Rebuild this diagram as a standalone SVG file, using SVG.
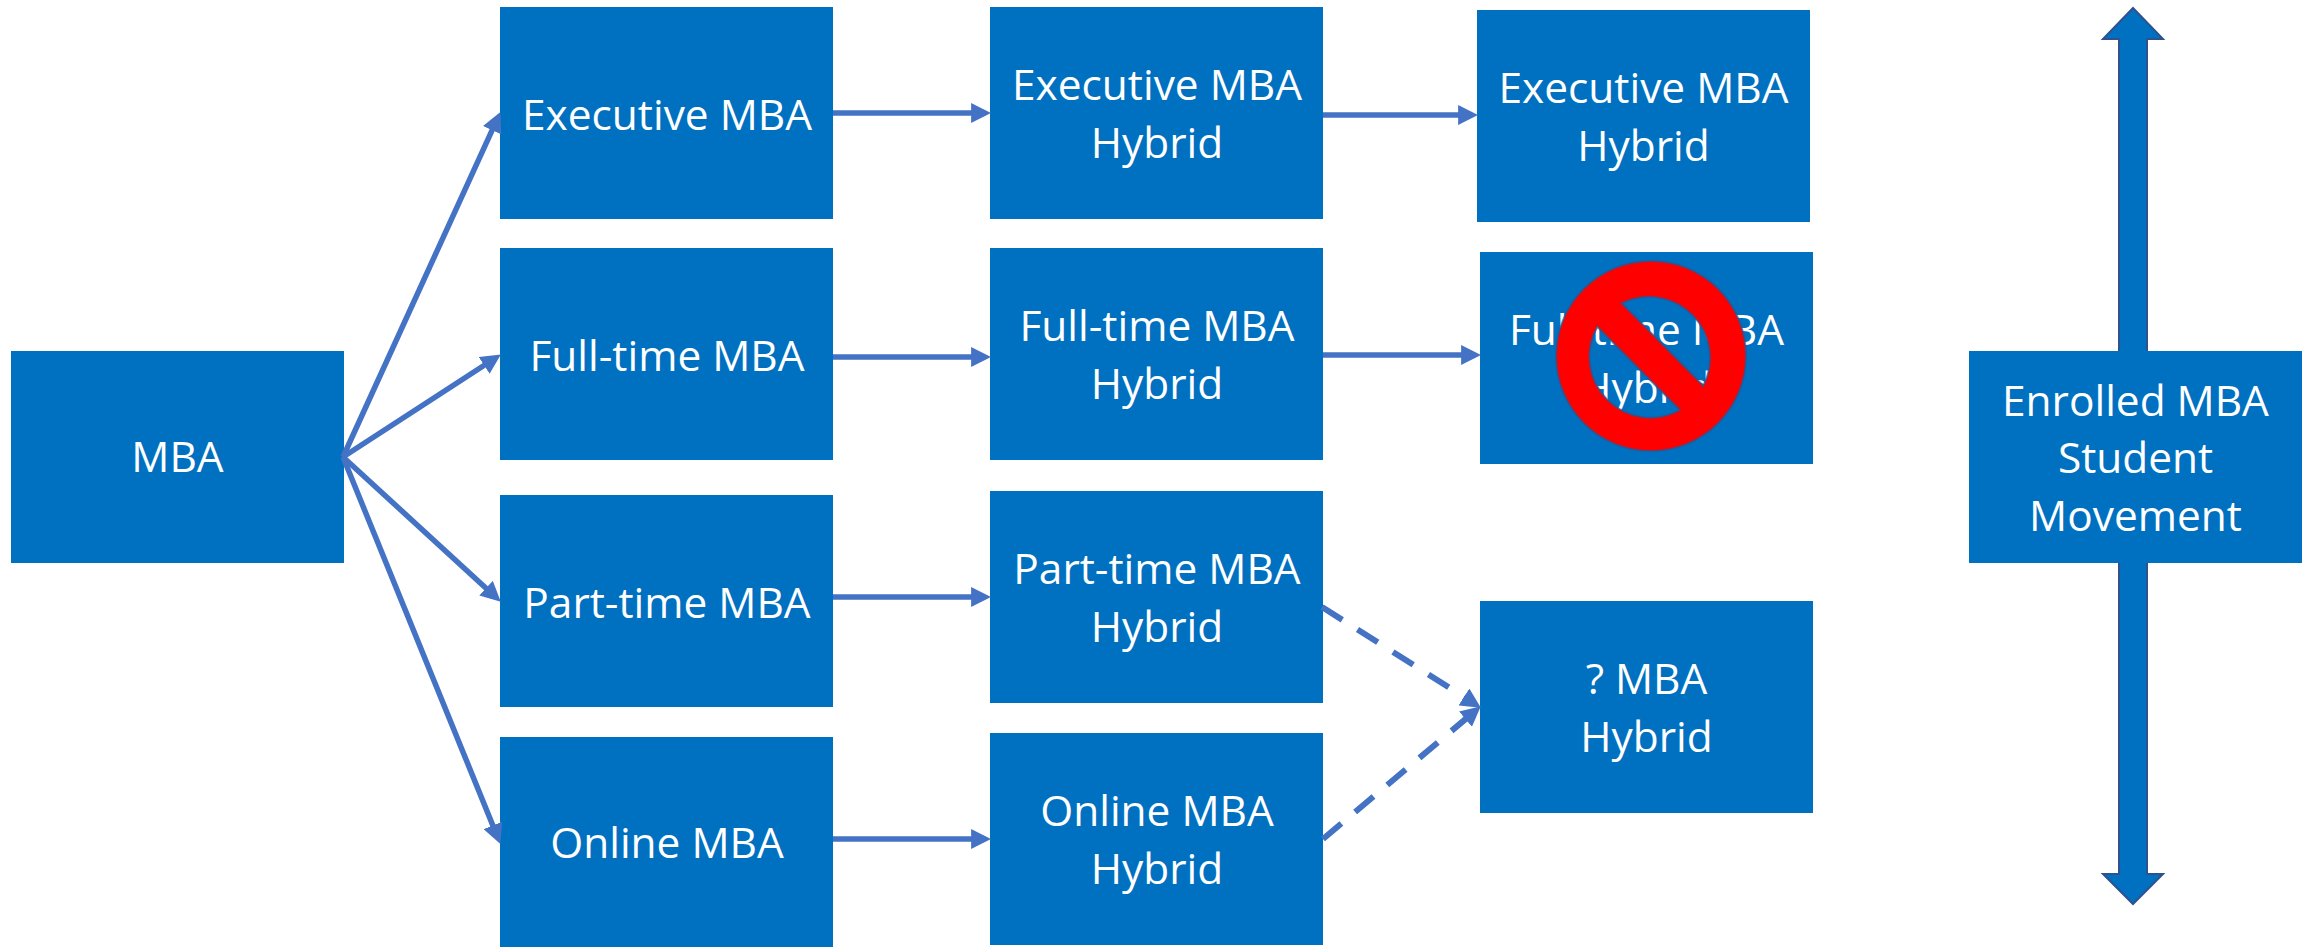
<svg xmlns="http://www.w3.org/2000/svg" width="2311" height="947" viewBox="0 0 2311 947">
<defs>
<style>
.box{fill:#0070C0}
text{font-family:"Open Sans","Noto Sans","Liberation Sans",sans-serif;font-size:42.400px;fill:#fff;text-anchor:middle}
.c{fill:none;stroke:#4472C4;stroke-width:5.500;marker-end:url(#ah)}
.d{stroke-width:6;stroke-dasharray:24 18}
</style>
<marker id="ah" markerUnits="userSpaceOnUse" markerWidth="20" markerHeight="20" viewBox="0 0 18 18" refX="8" refY="9" orient="auto"><path d="M0 0L18 9L0 18Z" fill="#4472C4"/></marker>
</defs>
<rect width="2311" height="947" fill="#fff"/>
<g id="updown-arrow"><path d="M2133 8L2163 39H2147V874H2163L2133 904L2103 874H2119V39H2103Z" fill="#0070C0" stroke="#2F528F" stroke-width="2"/></g>
<g id="mba"><rect class="box" x="11" y="351" width="333" height="212"/><text x="177.500" y="472">MBA</text></g>
<g id="executive"><rect class="box" x="500" y="7" width="333" height="212"/><text x="667" y="130">Executive MBA</text></g>
<g id="fulltime"><rect class="box" x="500" y="248" width="333" height="212"/><text x="667" y="371">Full-time MBA</text></g>
<g id="parttime"><rect class="box" x="500" y="495" width="333" height="212"/><text x="667" y="618">Part-time MBA</text></g>
<g id="online"><rect class="box" x="500" y="737" width="333" height="212"/><text x="667" y="858">Online MBA</text></g>
<g id="executive-hybrid"><rect class="box" x="990" y="7" width="333" height="212"/><text x="1157" y="100">Executive MBA</text><text x="1157" y="158">Hybrid</text></g>
<g id="fulltime-hybrid"><rect class="box" x="990" y="248" width="333" height="212"/><text x="1157" y="341">Full-time MBA</text><text x="1157" y="399">Hybrid</text></g>
<g id="parttime-hybrid"><rect class="box" x="990" y="491" width="333" height="212"/><text x="1157" y="584">Part-time MBA</text><text x="1157" y="642">Hybrid</text></g>
<g id="online-hybrid"><rect class="box" x="990" y="733" width="333" height="212"/><text x="1157" y="826">Online MBA</text><text x="1157" y="884">Hybrid</text></g>
<g id="executive-hybrid-2"><rect class="box" x="1477" y="10" width="333" height="212"/><text x="1643.500" y="103">Executive MBA</text><text x="1643.500" y="161">Hybrid</text></g>
<g id="fulltime-hybrid-2"><rect class="box" x="1480" y="252" width="333" height="212"/><text x="1646.500" y="345">Full-time MBA</text><text x="1646.500" y="403">Hybrid</text></g>
<g id="unknown-hybrid"><rect class="box" x="1480" y="601" width="333" height="212"/><text x="1646.500" y="694">? MBA</text><text x="1646.500" y="752">Hybrid</text></g>
<g id="enrolled"><rect class="box" x="1969" y="351" width="333" height="212"/><text x="2135.500" y="416">Enrolled MBA</text><text x="2135.500" y="473">Student</text><text x="2135.500" y="531">Movement</text></g>
<g id="no-symbol"><path fill-rule="evenodd" d="M1556 356A95 95 0 1 1 1746 356A95 95 0 1 1 1556 356ZM1621.700 303.300A61 61 0 0 1 1703.300 385.700ZM1680 410A61 61 0 0 1 1597.300 326.700Z" fill="#FF0000" stroke="#2F528F" stroke-opacity=".7" stroke-width="2"/></g>
<g id="connectors">
<path class="c" d="M343 457L495.800 122.100"/>
<path class="c" d="M343 457L491.600 360.500"/>
<path class="c" d="M343 457L492.600 594.200"/>
<path class="c" d="M343 457L496.200 833.700"/>
<path class="c" d="M833 113H980"/>
<path class="c" d="M833 357H980"/>
<path class="c" d="M833 597H980"/>
<path class="c" d="M833 839H980"/>
<path class="c" d="M1323 115H1467"/>
<path class="c" d="M1323 355H1470"/>
<path class="c d" d="M1322 607L1471.500 701.700"/>
<path class="c d" d="M1323 839L1472.300 713.400"/>
</g>
</svg>
